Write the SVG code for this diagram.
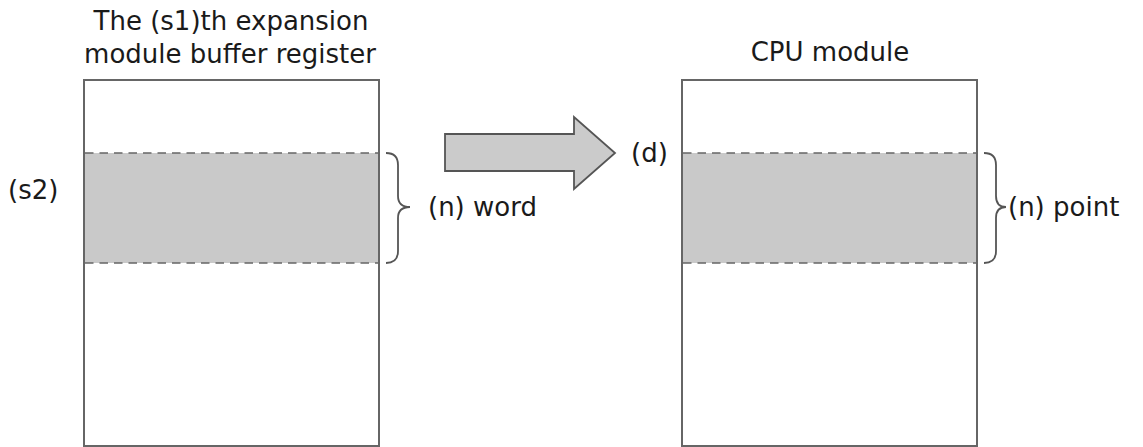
<svg xmlns="http://www.w3.org/2000/svg" width="1143" height="447" viewBox="0 0 1143 447">
  <style>
    .lbl { font-family: "DejaVu Sans", sans-serif; font-size: 26px; fill: #1a1a1a; }
    .box { fill: #fff; stroke: #666; stroke-width: 2; }
    .band { fill: #c9c9c9; stroke: none; }
    .dash { stroke: #666; stroke-width: 1.5; stroke-dasharray: 8.5 6; fill: none; }
    .brace { fill: none; stroke: #555; stroke-width: 1.8; }
  </style>

  <!-- source: expansion module buffer register -->
  <g id="src">
    <text class="lbl" x="231" y="30" text-anchor="middle">The (s1)th expansion</text>
    <text class="lbl" x="230" y="63" text-anchor="middle">module buffer register</text>
    <rect class="box" x="84" y="80" width="295" height="366"/>
    <rect class="band" x="85" y="153" width="293" height="110"/>
    <line class="dash" x1="85" y1="153" x2="378" y2="153"/>
    <line class="dash" x1="85" y1="263" x2="378" y2="263"/>
    <text class="lbl" x="8" y="199">(s2)</text>
    <path class="brace" d="M386,153 Q398,153 398,165 L398,196 Q398,207 410,207 Q398,207 398,218 L398,251 Q398,263 386,263"/>
    <text class="lbl" x="428" y="216">(n) word</text>
  </g>

  <!-- destination: CPU module -->
  <g id="dst">
    <text class="lbl" x="830" y="61" text-anchor="middle">CPU module</text>
    <rect class="box" x="682" y="80" width="295" height="366"/>
    <rect class="band" x="683" y="153" width="293" height="110"/>
    <line class="dash" x1="683" y1="153" x2="976" y2="153"/>
    <line class="dash" x1="683" y1="263" x2="976" y2="263"/>
    <text class="lbl" x="631" y="162">(d)</text>
    <path class="brace" d="M984,153 Q996,153 996,165 L996,196 Q996,207 1006,207 Q996,207 996,218 L996,251 Q996,263 984,263"/>
    <text class="lbl" x="1008" y="216">(n) point</text>
  </g>

  <!-- transfer arrow -->
  <g id="connectors">
    <polygon points="445,134 574,134 574,117 615,153 574,189 574,171 445,171" fill="#cbcbcb" stroke="#555" stroke-width="1.8" stroke-linejoin="miter"/>
  </g>
</svg>
